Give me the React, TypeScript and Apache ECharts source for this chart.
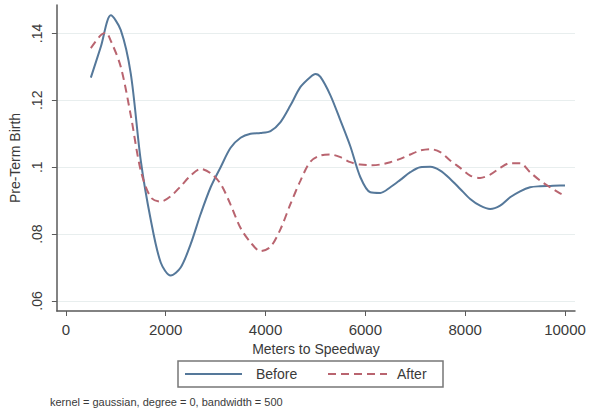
import React, { useEffect, useRef } from "react";
import * as echarts from "echarts";

const xTicks = [0, 2000, 4000, 6000, 8000, 10000];
const yTicks = [0.06, 0.08, 0.1, 0.12, 0.14];

const beforeMeters = [500, 700, 900, 1100, 1300, 1500, 1700, 1900, 2100, 2300, 2500, 2700, 2900, 3100, 3300, 3500, 3700, 3900, 4100, 4300, 4500, 4700, 4900, 5000, 5100, 5300, 5500, 5700, 5900, 6100, 6300, 6500, 6700, 6900, 7100, 7300, 7500, 7700, 7900, 8100, 8300, 8500, 8700, 8900, 9100, 9300, 9500, 9700, 9900, 10000];
const beforeValues = [0.1268, 0.136, 0.1454, 0.141, 0.128, 0.102, 0.0843, 0.0715, 0.0676, 0.07, 0.077, 0.086, 0.094, 0.1, 0.1058, 0.1088, 0.11, 0.1102, 0.1108, 0.1135, 0.1185, 0.124, 0.127, 0.1279, 0.127, 0.1215, 0.114, 0.1062, 0.097, 0.0925, 0.0923, 0.094, 0.0962, 0.0985, 0.1, 0.1001, 0.099, 0.0965, 0.0935, 0.0905, 0.0885, 0.0875, 0.0885, 0.091, 0.0928, 0.094, 0.0943, 0.0944, 0.0945, 0.0945];

const afterMeters = [500, 700, 800, 900, 1100, 1300, 1500, 1700, 1900, 2100, 2300, 2500, 2700, 2900, 3100, 3300, 3500, 3700, 3900, 4100, 4300, 4500, 4700, 4900, 5100, 5300, 5500, 5700, 5900, 6100, 6300, 6500, 6700, 6900, 7100, 7300, 7500, 7700, 7900, 8100, 8300, 8500, 8700, 8900, 9100, 9300, 9500, 9700, 9900, 10000];
const afterValues = [0.1356, 0.1395, 0.1402, 0.1378, 0.13, 0.1155, 0.099, 0.091, 0.0897, 0.0913, 0.0943, 0.0975, 0.0995, 0.0982, 0.095, 0.0888, 0.0818, 0.0775, 0.0749, 0.0762, 0.0815, 0.089, 0.096, 0.1017, 0.1035, 0.1038, 0.103, 0.1015, 0.1008, 0.1006, 0.1008, 0.1015, 0.1025, 0.1038, 0.105, 0.1054, 0.1045, 0.102, 0.0998, 0.0975, 0.0968, 0.0978, 0.0998, 0.1012, 0.1012, 0.0985, 0.096, 0.094, 0.0922, 0.0915];

const seriesNames = ["Before", "After"];
const xTitle = "Meters to Speedway";
const yTitle = "Pre-Term Birth";
const note = "kernel = gaussian, degree = 0, bandwidth = 500";

const FONT = "'Liberation Sans', Arial, sans-serif";
const TEXT = "#3a3a3a";
const AXIS = "#5a5a5a";
const BLUE = "#55789a";
const RED = "#b9646f";

export default function App() {
  const ref = useRef<HTMLDivElement>(null);
  useEffect(() => {
    if (!ref.current) return;
    const chart = echarts.init(ref.current, undefined, { renderer: "svg" });
    const fmtY = (v: number) => {
      let s = v.toFixed(2).replace(/^0/, "");
      if (s.endsWith("0")) s = s.slice(0, -1);
      return s;
    };
    chart.setOption({
      animation: false,
      backgroundColor: "#ffffff",
      textStyle: { fontFamily: FONT },
      grid: { left: 48, right: 16, top: 5, bottom: 106 },
      xAxis: {
        type: "value",
        min: -180,
        max: 10200,
        name: xTitle,
        nameLocation: "middle",
        nameGap: 26,
        nameTextStyle: { fontSize: 14, color: TEXT, fontFamily: FONT },
        axisLine: { show: true, onZero: false, lineStyle: { color: AXIS, width: 1.5 } },
        axisTick: { show: true, length: 5, customValues: xTicks, lineStyle: { color: AXIS } },
        axisLabel: { customValues: xTicks, fontSize: 15, color: TEXT, margin: 11, fontFamily: FONT, formatter: (v: number) => String(v) },
        splitLine: { show: false },
      },
      yAxis: {
        type: "value",
        min: 0.057,
        max: 0.1485,
        name: yTitle,
        nameLocation: "middle",
        nameGap: 34,
        nameTextStyle: { fontSize: 14, color: TEXT, fontFamily: FONT },
        axisLine: { show: true, onZero: false, lineStyle: { color: AXIS, width: 1.5 } },
        axisTick: { show: true, length: 5, customValues: yTicks, lineStyle: { color: AXIS } },
        axisLabel: { customValues: yTicks, rotate: 90, fontSize: 14, color: TEXT, margin: 13, formatter: fmtY, fontFamily: FONT },
        splitLine: { show: true, lineStyle: { color: "#e8eeee", width: 1 } },
      },
      graphic: [
        {
          type: "rect",
          shape: { x: 178, y: 361, width: 265, height: 26 },
          style: { fill: "#fff", stroke: "#777", lineWidth: 1.5 },
        },
        {
          type: "line",
          shape: { x1: 185, y1: 374, x2: 242, y2: 374 },
          style: { stroke: BLUE, lineWidth: 2 },
        },
        {
          type: "text",
          x: 256,
          y: 374,
          style: { text: seriesNames[0], fontSize: 14, fill: TEXT, fontFamily: FONT, verticalAlign: "middle" },
        },
        {
          type: "line",
          shape: { x1: 328, y1: 374, x2: 387, y2: 374 },
          style: { stroke: RED, lineWidth: 2, lineDash: [8, 5] },
        },
        {
          type: "text",
          x: 397,
          y: 374,
          style: { text: seriesNames[1], fontSize: 14, fill: TEXT, fontFamily: FONT, verticalAlign: "middle" },
        },
        {
          type: "text",
          left: 50,
          top: 396,
          style: { text: note, fontSize: 11, fill: TEXT, fontFamily: FONT },
        },
      ],
      series: [
        {
          name: seriesNames[0],
          type: "line",
          data: beforeMeters.map((m, i) => [m, beforeValues[i]]),
          showSymbol: false,
          symbol: "none",
          smooth: 0.3,
          lineStyle: { color: BLUE, width: 2 },
          itemStyle: { color: BLUE },
        },
        {
          name: seriesNames[1],
          type: "line",
          data: afterMeters.map((m, i) => [m, afterValues[i]]),
          showSymbol: false,
          symbol: "none",
          smooth: 0.3,
          lineStyle: { color: RED, width: 2, type: [8, 5] },
          itemStyle: { color: RED },
        },
      ],
    });
    return () => chart.dispose();
  }, []);
  return (
    <div
      ref={ref}
      style={{ position: "fixed", left: 0, top: 0, width: 591, height: 417, background: "#fff" }}
    />
  );
}
